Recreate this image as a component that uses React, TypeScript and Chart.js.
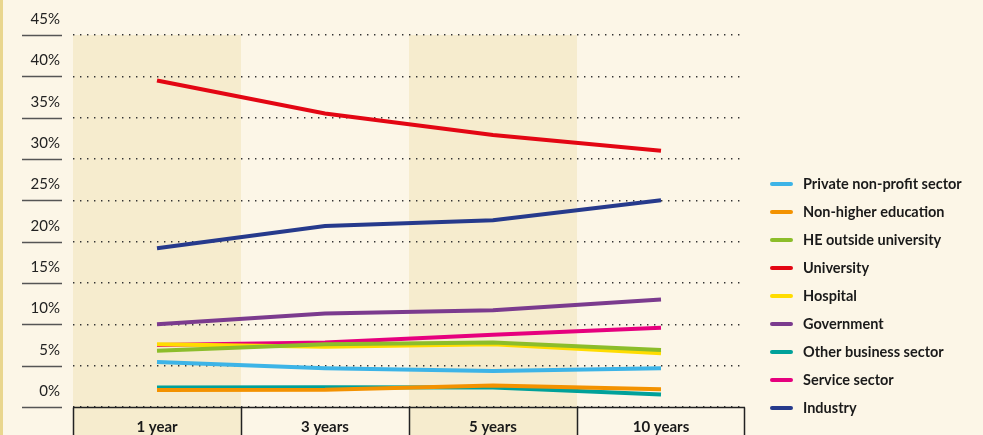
import React, { useEffect, useRef } from "react";
import { Chart, registerables } from "chart.js";

Chart.register(...registerables);

const categories = ["1 year", "3 years", "5 years", "10 years"];
const yTickValues = [0, 5, 10, 15, 20, 25, 30, 35, 40, 45];

const privateNonProfit = [5.45, 4.7, 4.35, 4.7];
const nonHigherEducation = [2.05, 2.1, 2.6, 2.15];
const heOutsideUniversity = [6.8, 7.6, 7.8, 6.9];
const university = [39.5, 35.5, 32.9, 31.0];
const hospital = [7.6, 7.3, 7.6, 6.5];
const government = [10.0, 11.3, 11.7, 13.0];
const otherBusiness = [2.35, 2.4, 2.35, 1.5];
const serviceSector = [7.5, 7.8, 8.75, 9.6];
const industry = [19.2, 21.9, 22.6, 25.0];

const seriesNames = [
  "Private non-profit sector",
  "Non-higher education",
  "HE outside university",
  "University",
  "Hospital",
  "Government",
  "Other business sector",
  "Service sector",
  "Industry",
];
const seriesValues = [
  privateNonProfit,
  nonHigherEducation,
  heOutsideUniversity,
  university,
  hospital,
  government,
  otherBusiness,
  serviceSector,
  industry,
];
const seriesColors = [
  "#3db4e7",
  "#f39200",
  "#8cbd2a",
  "#e30613",
  "#ffdc00",
  "#7b3b8e",
  "#00a19a",
  "#e6007e",
  "#263a8c",
];

const BG = "#fcf6e7";
const BAND = "#f6ecce";
const FONT = "Lato, 'Open Sans', sans-serif";

const decorPlugin = {
  id: "decor",
  beforeDraw(chart: any) {
    const { ctx, width, height, chartArea } = chart;
    const x = chart.scales.x;
    ctx.save();
    ctx.fillStyle = BG;
    ctx.fillRect(0, 0, width, height);
    ctx.fillStyle = "#e9d68e";
    ctx.fillRect(0, 0, 3, height);
    const half = (x.getPixelForValue(1) - x.getPixelForValue(0)) / 2;
    ctx.fillStyle = BAND;
    categories.forEach((_, i) => {
      if (i % 2 === 0) {
        const cx = x.getPixelForValue(i);
        ctx.fillRect(cx - half, chartArea.top, half * 2, height - chartArea.top);
      }
    });
    ctx.restore();
  },
  afterDraw(chart: any) {
    const { ctx, height, chartArea } = chart;
    const x = chart.scales.x;
    const y = chart.scales.y;
    ctx.save();
    // y tick marks
    ctx.strokeStyle = "#555";
    ctx.lineWidth = 1.5;
    yTickValues.forEach((v) => {
      const py = Math.round(y.getPixelForValue(v)) + 0.5;
      ctx.beginPath();
      ctx.moveTo(22, py);
      ctx.lineTo(62, py);
      ctx.stroke();
    });
    // category boxes
    ctx.strokeStyle = "#222";
    const half = (x.getPixelForValue(1) - x.getPixelForValue(0)) / 2;
    const top = Math.round(chartArea.bottom) + 0.5;
    ctx.beginPath();
    ctx.moveTo(chartArea.left, top);
    ctx.lineTo(chartArea.right, top);
    categories.forEach((_, i) => {
      const bx = Math.round(x.getPixelForValue(i) - half) + 0.5;
      ctx.moveTo(bx, top);
      ctx.lineTo(bx, height + 2);
    });
    const ex = Math.round(x.getPixelForValue(categories.length - 1) + half) - 0.5;
    ctx.moveTo(ex, top);
    ctx.lineTo(ex, height + 2);
    ctx.stroke();
    // legend
    chart.data.datasets.forEach((ds: any, i: number) => {
      const ly = 184 + i * 28;
      ctx.strokeStyle = ds.borderColor;
      ctx.lineWidth = 4;
      ctx.lineCap = "round";
      ctx.beginPath();
      ctx.moveTo(772, ly);
      ctx.lineTo(791, ly);
      ctx.stroke();
      ctx.fillStyle = "#1a1a1a";
      ctx.font = `bold 14.5px ${FONT}`;
      ctx.textAlign = "left";
      ctx.textBaseline = "middle";
      ctx.fillText(ds.label, 803, ly);
    });
    ctx.restore();
  },
};

export default function App() {
  const ref = useRef<HTMLCanvasElement | null>(null);
  useEffect(() => {
    if (!ref.current) return;
    const chart = new Chart(ref.current, {
      type: "line",
      data: {
        labels: categories,
        datasets: seriesNames.map((name, i) => ({
          label: name,
          data: seriesValues[i],
          borderColor: seriesColors[i],
          backgroundColor: seriesColors[i],
          borderWidth: 4,
          pointRadius: 0,
          tension: 0,
          fill: false,
        })),
      },
      options: {
        responsive: false,
        animation: false,
        layout: { padding: { top: 35, right: 238, bottom: 0, left: 0 } },
        plugins: {
          legend: { display: false },
          tooltip: { enabled: false },
        },
        scales: {
          x: {
            offset: true,
            grid: { display: false, drawTicks: false },
            border: { display: false },
            ticks: {
              color: "#1a1a1a",
              font: { family: FONT, size: 15, weight: "bold" },
              padding: 11,
            },
            afterFit(scale: any) {
              scale.height = 28;
            },
          },
          y: {
            min: 0,
            max: 45,
            border: { display: false, dash: [1.4, 5.6] },
            grid: {
              color: "#333",
              lineWidth: 1.4,
              drawTicks: false,
            },
            ticks: {
              stepSize: 5,
              color: "#222",
              font: { family: FONT, size: 15 },
              padding: 13,
              labelOffset: -16,
              callback: (v: any) => `${v}%`,
            },
            afterFit(scale: any) {
              scale.width = 73;
            },
          },
        },
      },
      plugins: [decorPlugin],
    });
    return () => chart.destroy();
  }, []);
  return (
    <div style={{ position: "absolute", left: 0, top: 0, width: 983, height: 435 }}>
      <canvas ref={ref} width={983} height={435} style={{ display: "block" }} />
    </div>
  );
}
